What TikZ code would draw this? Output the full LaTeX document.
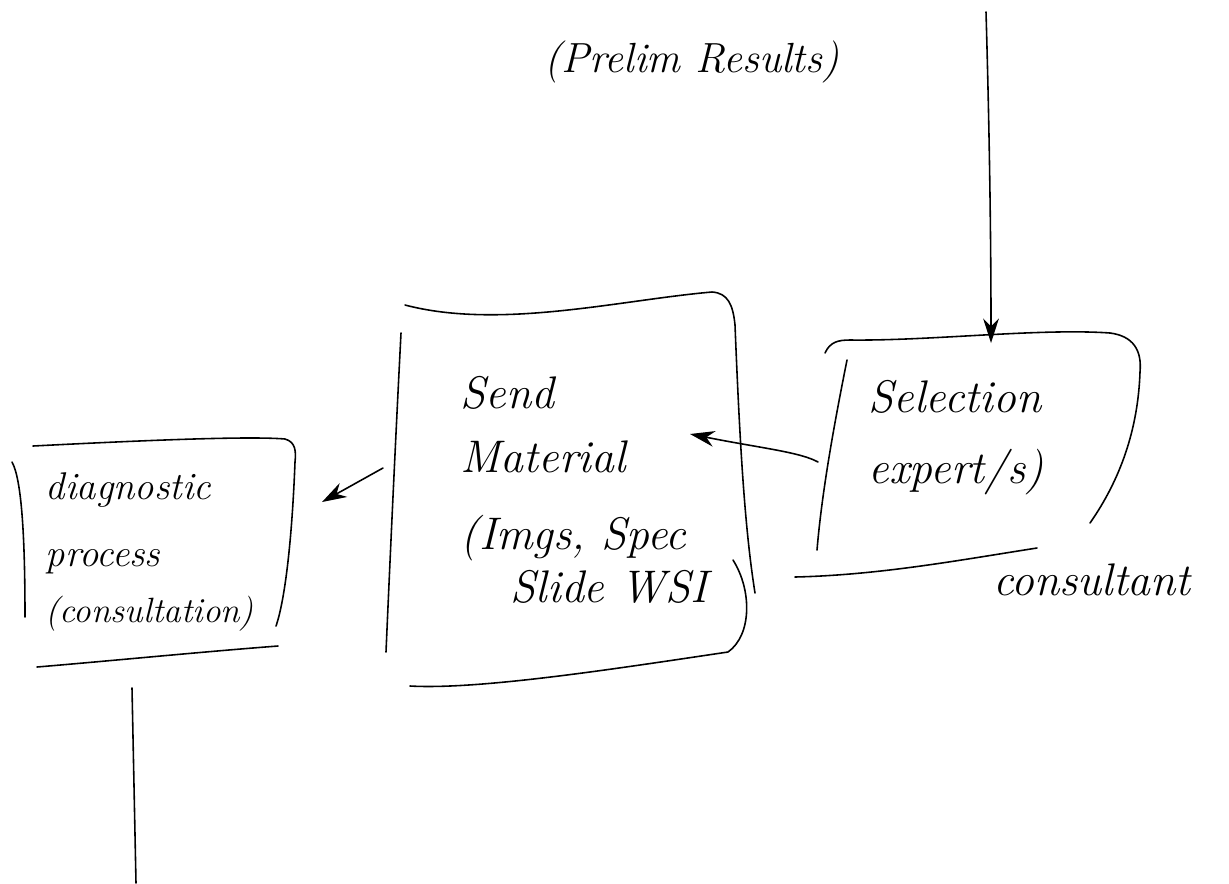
\documentclass[tikz,border=0pt]{standalone}
\usetikzlibrary{arrows.meta}
\begin{document}
\begin{tikzpicture}[x=0.02cm, y=-0.02cm, line width=0.9pt, line cap=round, line join=round,
  pen/.style={draw=black},
  note/.style={font=\fontsize{22}{38}\selectfont\itshape, align=left, inner sep=0pt},
  big/.style={font=\fontsize{26}{40}\selectfont\itshape},
  flow/.style={pen, -{Stealth[length=14pt,width=9pt]}}]
\useasboundingbox (0,0) rectangle (1229,883);

% ---- texts ----
\node[note] (prelim) at (692,62) {\fontsize{24}{30}\selectfont(Prelim Results)};
\node[note, anchor=north west] (diag) at (45,472)
  {diagnostic\\process\\[-6pt]{\fontsize{20}{30}\selectfont(consultation)}};
\node[note, big, anchor=north west] (send) at (460,376)
  {Send\\[-4pt]Material\\[4pt](Imgs, Spec\\[-10pt]\hspace{1.0cm}Slide WSI};
\node[note, big, anchor=north west] (select) at (868,380)
  {Selection\\expert/s)};
\node[note, big] (consult) at (1092,580) {consultant};

% ---- diagnostic process box ----
\draw[pen] (33,446) .. controls (150,440) and (250,436) .. (285,439)
  .. controls (296,442) and (296,452) .. (295,462)
  .. controls (292,540) and (285,600) .. (276,626);
\draw[pen] (12,462) .. controls (22,480) and (25,540) .. (25,617);
\draw[pen] (37,667) .. controls (120,660) and (200,652) .. (278,646);

% ---- send material box ----
\draw[pen] (405,305) .. controls (500,330) and (620,300) .. (712,292)
  .. controls (728,293) and (733,305) .. (735,325)
  .. controls (740,450) and (745,530) .. (755,593);
\draw[pen] (401,333) .. controls (395,450) and (390,560) .. (386,652);
\draw[pen] (733,560) .. controls (752,590) and (752,635) .. (728,652)
  .. controls (620,668) and (480,690) .. (410,686);

% ---- selection box ----
\draw[pen] (825,353) .. controls (830,342) and (838,340) .. (850,340)
  .. controls (930,341) and (1040,328) .. (1110,333)
  .. controls (1133,336) and (1142,350) .. (1140,372)
  .. controls (1138,430) and (1120,480) .. (1090,523);
\draw[pen] (847,360) .. controls (835,420) and (822,490) .. (817,550);
\draw[pen] (795,577) .. controls (880,575) and (960,560) .. (1037,548);

% ---- connectors ----
\coordinate (topsrc) at (986,12);
\coordinate (selin) at (991,343);
\coordinate (selout) at (818,462);
\coordinate (sendin) at (690,434);
\coordinate (sendout) at (383,468);
\coordinate (diagin) at (322,502);
\coordinate (diagout) at (132,688);
\coordinate (downend) at (136,883);

\draw[flow] (topsrc) .. controls (990,150) and (991,260) .. (selin);
\draw[flow] (selout) .. controls (800,452) and (760,448) .. (sendin);
\draw[flow] (sendout) -- (diagin);
\draw[pen] (diagout) -- (downend);
\end{tikzpicture}
\end{document}
